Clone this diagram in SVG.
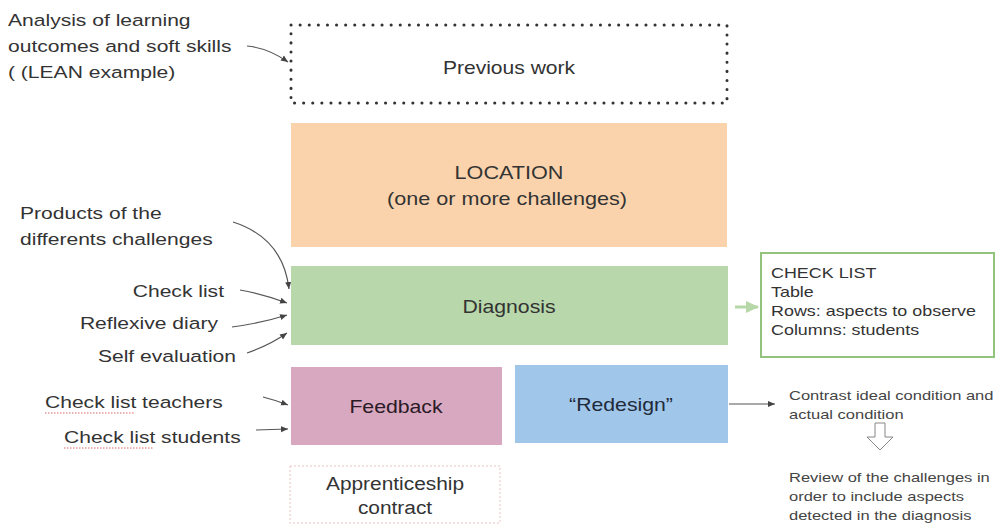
<svg xmlns="http://www.w3.org/2000/svg" width="996" height="526" viewBox="0 0 996 526">
<style>
text{font-family:"Liberation Sans",Arial,sans-serif;fill:#333}
.lbl{font-size:17px}
.nd{font-size:18px;text-anchor:middle}
.ck{font-size:14px}
.sm{font-size:13px;fill:#444}
.cn{fill:none;stroke:#555;stroke-width:1.2}
.sq{fill:none;stroke:#e06666;stroke-width:1;stroke-dasharray:1.5 1.5}
</style>
<defs>
<marker id="ah" markerWidth="8" markerHeight="8" refX="7" refY="4" orient="auto" markerUnits="userSpaceOnUse"><path d="M0,1 L7,4 L0,7 z" fill="#444"/></marker>
<marker id="gh" markerWidth="14" markerHeight="14" refX="12" refY="7" orient="auto" markerUnits="userSpaceOnUse"><path d="M0,1 L13,7 L0,13 z" fill="#b6d7a8"/></marker>
</defs>
<rect width="996" height="526" fill="#fff"/>

<g id="previous-work">
<rect x="291" y="25" width="436" height="78" fill="#fff" stroke="#333" stroke-width="3" stroke-dasharray="0.1 9" stroke-linecap="round"/>
<text class="nd" transform="translate(509,74) scale(1.17,1)">Previous work</text>
</g>
<g id="location">
<rect x="291" y="123" width="436" height="124" fill="#fad3ad"/>
<text class="nd" transform="translate(509,179) scale(1.2,1)">LOCATION</text>
<text class="nd" transform="translate(507,205) scale(1.2,1)">(one or more challenges)</text>
</g>
<g id="diagnosis">
<rect x="291" y="266" width="437" height="79" fill="#b8d8ab"/>
<text class="nd" transform="translate(509,313) scale(1.18,1)">Diagnosis</text>
</g>
<g id="feedback">
<rect x="291" y="367" width="211" height="78" fill="#d8a7c0"/>
<text class="nd" transform="translate(396,413) scale(1.18,1)" style="fill:#2a1a25">Feedback</text>
</g>
<g id="redesign">
<rect x="515" y="365" width="213" height="78" fill="#a0c6ea"/>
<text class="nd" transform="translate(621,411) scale(1.18,1)" style="fill:#1f2a3a">“Redesign”</text>
</g>
<g id="apprenticeship">
<rect x="290" y="466" width="210" height="57" fill="#fff" stroke="#e9c4c4" stroke-width="1" stroke-dasharray="2 2"/>
<text class="nd" transform="translate(395,490) scale(1.16,1)">Apprenticeship</text>
<text class="nd" transform="translate(395,514) scale(1.16,1)">contract</text>
</g>
<g id="checklist">
<rect x="761" y="253" width="233" height="104" fill="#fff" stroke="#93c47d" stroke-width="2"/>
<text class="ck" transform="translate(771,278) scale(1.28,1)">CHECK LIST</text>
<text class="ck" transform="translate(771,297) scale(1.28,1)">Table</text>
<text class="ck" transform="translate(771,316) scale(1.28,1)">Rows: aspects to observe</text>
<text class="ck" transform="translate(771,335) scale(1.28,1)">Columns: students</text>
</g>

<g id="labels">
<text class="lbl" transform="translate(8,26) scale(1.24,1)">Analysis of learning</text>
<text class="lbl" transform="translate(8,52) scale(1.24,1)">outcomes and soft skills</text>
<text class="lbl" transform="translate(8,78) scale(1.24,1)">( (LEAN example)</text>
<text class="lbl" transform="translate(20,219) scale(1.24,1)">Products of the</text>
<text class="lbl" transform="translate(20,245) scale(1.24,1)">differents challenges</text>
<text class="lbl" text-anchor="end" transform="translate(224,297) scale(1.24,1)">Check list</text>
<text class="lbl" text-anchor="end" transform="translate(218,329) scale(1.24,1)">Reflexive diary</text>
<text class="lbl" text-anchor="end" transform="translate(236,362) scale(1.24,1)">Self evaluation</text>
<text class="lbl" transform="translate(45,408) scale(1.24,1)">Check list teachers</text>
<text class="lbl" transform="translate(64,443) scale(1.24,1)">Check list students</text>
<path class="sq" d="M45,413 H134 M64,448 H153"/>
<text class="sm" transform="translate(789,400) scale(1.27,1)">Contrast ideal condition and</text>
<text class="sm" transform="translate(789,419) scale(1.27,1)">actual condition</text>
<text class="sm" transform="translate(789,482) scale(1.27,1)">Review of the challenges in</text>
<text class="sm" transform="translate(789,501) scale(1.27,1)">order to include aspects</text>
<text class="sm" transform="translate(789,520) scale(1.27,1)">detected in the diagnosis</text>
</g>

<g id="connectors">
<path class="cn" d="M247,46 Q268,48 288,62" marker-end="url(#ah)"/>
<path class="cn" d="M233,222 Q283,238 289,289" marker-end="url(#ah)"/>
<path class="cn" d="M240,290 Q262,294 287,303" marker-end="url(#ah)"/>
<path class="cn" d="M232,327 Q262,323 287,315" marker-end="url(#ah)"/>
<path class="cn" d="M247,353 Q270,345 287,333" marker-end="url(#ah)"/>
<path class="cn" d="M263,397 Q275,400 288,405" marker-end="url(#ah)"/>
<path class="cn" d="M256,430 L288,429" marker-end="url(#ah)"/>
<path d="M735,307 L758,307" stroke="#b6d7a8" stroke-width="3" marker-end="url(#gh)"/>
<path class="cn" d="M729,404 L775,404" marker-end="url(#ah)"/>
<path d="M875,423 H885 V437 H893 L880,450 L867,437 H875 Z" fill="#fff" stroke="#888" stroke-width="1"/>
</g>
</svg>
